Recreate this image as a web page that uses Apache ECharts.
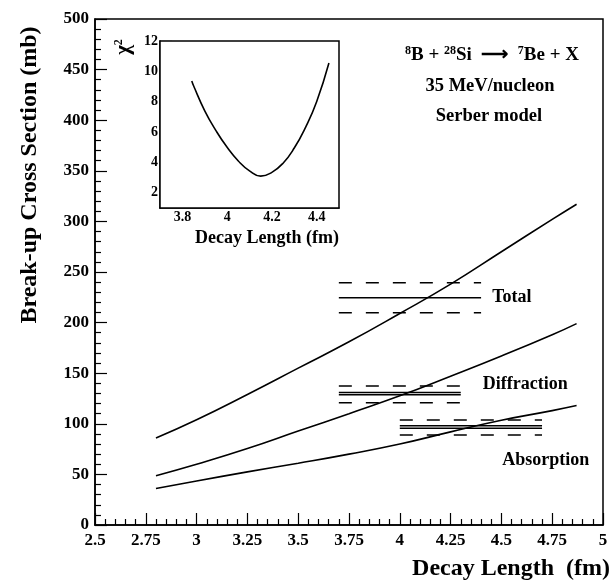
<!DOCTYPE html>
<html>
<head>
<meta charset="utf-8">
<script src="https://cdn.jsdelivr.net/npm/echarts@6/dist/echarts.min.js"></script>
<style>
    html, body { margin: 0; padding: 0; background: #fff; }
    #chart { width: 614px; height: 586px; }
</style>
</head>
<body>
<div id="chart"></div>
<script>
// main panel: break-up cross sections vs decay length
const decayLength = [2.8, 3.0, 3.25, 3.5, 3.75, 4.0, 4.25, 4.5, 4.75, 4.87];
const totalXS = [86, 104, 129, 155, 181, 209, 238, 270, 302, 317];
const diffractionXS = [48.7, 60, 75.5, 92.8, 110, 127.6, 147, 167, 188, 199];
const absorptionXS = [36, 43.5, 52.5, 61, 70, 80, 92, 103.5, 113, 118];

// measured values (solid) and error bands (dashed)
const bandNames = ['Total', 'Diffraction', 'Absorption'];
const bandFrom = [3.7, 3.7, 4.0];
const bandTo = [4.4, 4.3, 4.7];
const bandCentre = [[224.6], [131, 128.7], [98, 95.6]];
const bandLow = [209.8, 120.8, 88.9];
const bandHigh = [239.4, 137.4, 103.8];
const labelPos = [[4.455, 224.6], [4.408, 139.3], [4.504, 64.2]];

// inset: chi^2 vs decay length
const chiX = [3.842, 3.85, 3.9, 3.95, 4.0, 4.05, 4.1, 4.15, 4.2, 4.25, 4.3, 4.35, 4.4, 4.455];
const chiY = [9.36, 9.05, 7.4, 6.1, 5.0, 4.1, 3.45, 3.1, 3.35, 3.95, 4.95, 6.3, 8.0, 10.55];
const insetXTicks = [3.8, 4, 4.2, 4.4];
const insetXMinor = [3.75, 3.85, 3.9, 3.95, 4.05, 4.1, 4.15, 4.25, 4.3, 4.35, 4.45];
const insetYTicks = [2, 4, 6, 8, 10, 12];
const insetYMinor = [1.5, 2.5, 3, 3.5, 4.5, 5, 5.5, 6.5, 7, 7.5, 8.5, 9, 9.5, 10.5, 11, 11.5];

const FONT = 'Liberation Serif';

let chart = echarts.init(document.getElementById('chart'));

function zip(xs, ys) {
    return xs.map((x, i) => [x, ys[i]]);
}

function curve(xs, ys, xi) {
    return {
        type: 'line',
        xAxisIndex: xi,
        yAxisIndex: xi,
        data: zip(xs, ys),
        smooth: true,
        showSymbol: false,
        silent: true,
        lineStyle: { color: '#000', width: 1.6 }
    };
}

function hline(x0, x1, v, dashed) {
    return {
        type: 'line',
        data: [[x0, v], [x1, v]],
        showSymbol: false,
        silent: true,
        lineStyle: { color: '#000', width: 1.6, type: dashed ? [13, 14] : 'solid' }
    };
}

let series = [
    curve(decayLength, totalXS, 0),
    curve(decayLength, diffractionXS, 0),
    curve(decayLength, absorptionXS, 0)
];
bandNames.forEach((name, i) => {
    series.push(hline(bandFrom[i], bandTo[i], bandHigh[i], true));
    series.push(hline(bandFrom[i], bandTo[i], bandLow[i], true));
    bandCentre[i].forEach(v => series.push(hline(bandFrom[i], bandTo[i], v, false)));
});
// curve names, placed at data coordinates
series.push({
    type: 'scatter',
    symbolSize: 0,
    silent: true,
    itemStyle: { opacity: 1 },
    data: bandNames.map((name, i) => ({ name: name, value: labelPos[i] })),
    label: {
        show: true,
        position: 'right',
        distance: 0,
        formatter: '{b}',
        color: '#000',
        opacity: 1,
        fontFamily: FONT,
        fontWeight: 'bold',
        fontSize: 18
    }
});
series.push(curve(chiX, chiY, 1));

const boldLabel = (size, margin) => ({
    color: '#000', fontFamily: FONT, fontWeight: 'bold', fontSize: size, margin: margin
});
const axisLine = { show: true, onZero: false, lineStyle: { color: '#000', width: 1.5 } };

let option = {
    animation: false,
    backgroundColor: '#fff',
    grid: [
        { left: 95, top: 19, width: 508, height: 506, show: true, borderColor: '#000', borderWidth: 1.5, backgroundColor: '#fff' },
        { left: 160, top: 41, width: 179, height: 167, show: true, borderColor: '#000', borderWidth: 1.5, backgroundColor: '#fff', z: 3 }
    ],
    xAxis: [
        {
            type: 'value', gridIndex: 0, min: 2.5, max: 5, interval: 0.25,
            axisLine: axisLine,
            axisTick: { inside: true, length: 12, lineStyle: { color: '#000', width: 1.2 } },
            minorTick: { show: true, splitNumber: 5, length: 6, lineStyle: { color: '#000', width: 1.2 } },
            axisLabel: boldLabel(17, 7),
            splitLine: { show: false }
        },
        {
            type: 'value', gridIndex: 1, min: 3.7, max: 4.5,
            axisLine: axisLine,
            axisTick: { inside: true, length: 12, customValues: insetXTicks, lineStyle: { color: '#000', width: 1.2 } },
            axisLabel: Object.assign(boldLabel(14, 2), { customValues: insetXTicks }),
            splitLine: { show: false }
        },
        {
            type: 'value', gridIndex: 1, min: 3.7, max: 4.5,
            axisLine: { show: false },
            axisTick: { inside: true, length: 5, customValues: insetXMinor, lineStyle: { color: '#000', width: 1.2 } },
            axisLabel: { show: false },
            splitLine: { show: false }
        }
    ],
    yAxis: [
        {
            type: 'value', gridIndex: 0, min: 0, max: 500, interval: 50,
            axisLine: axisLine,
            axisTick: { inside: true, length: 12, lineStyle: { color: '#000', width: 1.2 } },
            minorTick: { show: true, splitNumber: 5, length: 6, lineStyle: { color: '#000', width: 1.2 } },
            axisLabel: boldLabel(17, 6),
            splitLine: { show: false }
        },
        {
            type: 'value', gridIndex: 1, min: 1, max: 12,
            axisLine: axisLine,
            axisTick: { inside: true, length: 12, customValues: insetYTicks, lineStyle: { color: '#000', width: 1.2 } },
            axisLabel: Object.assign(boldLabel(14, 2), { customValues: insetYTicks }),
            splitLine: { show: false }
        },
        {
            type: 'value', gridIndex: 1, min: 1, max: 12,
            axisLine: { show: false },
            axisTick: { inside: true, length: 6, customValues: insetYMinor, lineStyle: { color: '#000', width: 1.2 } },
            axisLabel: { show: false },
            splitLine: { show: false }
        }
    ],
    graphic: [
        {
            type: 'text', x: 30, y: 175, rotation: Math.PI / 2,
            style: { text: 'Break-up Cross Section (mb)', font: 'bold 24px "Liberation Serif"', fill: '#000', align: 'center', verticalAlign: 'middle' }
        },
        {
            type: 'text', x: 610, y: 569,
            style: { text: 'Decay Length  (fm)', font: 'bold 24px "Liberation Serif"', fill: '#000', align: 'right', verticalAlign: 'middle' }
        },
        {
            type: 'text', x: 339, y: 238, z: 10,
            style: { text: 'Decay Length (fm)', font: 'bold 18px "Liberation Serif"', fill: '#000', align: 'right', verticalAlign: 'middle' }
        },
        {
            type: 'text', x: 124, y: 47, rotation: Math.PI / 2, z: 10,
            style: {
                text: '{g|χ}{s|2}', align: 'center', verticalAlign: 'middle',
                rich: {
                    g: { fontFamily: FONT, fontWeight: 'bold', fontSize: 21, fill: '#000', lineHeight: 22 },
                    s: { fontFamily: FONT, fontWeight: 'bold', fontSize: 12, fill: '#000', lineHeight: 22, verticalAlign: 'top', padding: [0, 0, 9, 0] }
                }
            }
        },
        {
            type: 'text', x: 492, y: 55,
            style: {
                text: '{s|8}{m|B + }{s|28}{m|Si  ⟶  }{s|7}{m|Be + X}', align: 'center', verticalAlign: 'middle',
                rich: {
                    m: { fontFamily: FONT, fontWeight: 'bold', fontSize: 19, fill: '#000', lineHeight: 20 },
                    s: { fontFamily: FONT, fontWeight: 'bold', fontSize: 12, fill: '#000', lineHeight: 20, verticalAlign: 'top', padding: [0, 0, 8, 0] }
                }
            }
        },
        {
            type: 'text', x: 490, y: 86,
            style: { text: '35 MeV/nucleon', font: 'bold 18.5px "Liberation Serif"', fill: '#000', align: 'center', verticalAlign: 'middle' }
        },
        {
            type: 'text', x: 489, y: 116,
            style: { text: 'Serber model', font: 'bold 18.5px "Liberation Serif"', fill: '#000', align: 'center', verticalAlign: 'middle' }
        }
    ],
    series: series
};

chart.setOption(option);
</script>
</body>
</html>
